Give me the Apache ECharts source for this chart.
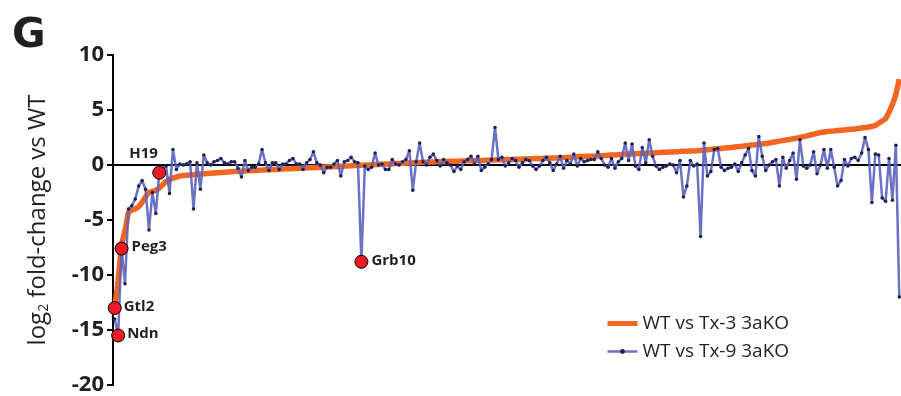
<!DOCTYPE html>
<html>
<head>
<meta charset="utf-8">
<script src="https://cdn.jsdelivr.net/npm/echarts@6/dist/echarts.min.js"></script>
<style>
  html, body { margin: 0; padding: 0; background: #fff; }
  #chart { width: 901px; height: 396px; }
</style>
</head>
<body>
<div id="chart"></div>
<script>
// genes ranked by WT vs Tx-3 3aKO (x axis has no labels)
const tx3 = [
  -13.0, -10.5, -7.2, -6.0, -4.3, -4.1, -4.0, -3.8, -3.4, -2.9,
  -2.5, -2.4, -2.3, -2.1, -1.8, -1.5, -1.3, -1.2, -1.1, -1.0,
  -0.96, -0.93, -0.9, -0.88, -0.85, -0.82, -0.8, -0.78, -0.75, -0.72,
  -0.7, -0.68, -0.66, -0.64, -0.62, -0.6, -0.58, -0.56, -0.54, -0.52,
  -0.5, -0.49, -0.47, -0.46, -0.44, -0.43, -0.41, -0.4, -0.38, -0.37,
  -0.35, -0.34, -0.32, -0.31, -0.29, -0.28, -0.26, -0.25, -0.23, -0.22,
  -0.2, -0.19, -0.17, -0.16, -0.14, -0.13, -0.11, -0.1, -0.08, -0.07,
  -0.05, -0.04, -0.02, -0.01, 0.01, 0.02, 0.04, 0.05, 0.07, 0.08,
  0.1, 0.11, 0.13, 0.14, 0.16, 0.17, 0.19, 0.2, 0.22, 0.23,
  0.25, 0.26, 0.27, 0.28, 0.29, 0.3, 0.31, 0.32, 0.33, 0.34,
  0.35, 0.36, 0.37, 0.38, 0.39, 0.4, 0.41, 0.42, 0.43, 0.44,
  0.45, 0.46, 0.47, 0.48, 0.49, 0.5, 0.51, 0.52, 0.53, 0.54,
  0.55, 0.56, 0.57, 0.58, 0.59, 0.6, 0.61, 0.62, 0.63, 0.64,
  0.65, 0.67, 0.69, 0.71, 0.73, 0.75, 0.77, 0.78, 0.79, 0.79,
  0.8, 0.82, 0.84, 0.86, 0.88, 0.9, 0.92, 0.94, 0.96, 0.98,
  1.0, 1.01, 1.03, 1.04, 1.06, 1.07, 1.09, 1.1, 1.12, 1.13,
  1.15, 1.16, 1.18, 1.19, 1.21, 1.22, 1.24, 1.25, 1.27, 1.28,
  1.3, 1.33, 1.36, 1.39, 1.42, 1.45, 1.48, 1.51, 1.54, 1.57,
  1.6, 1.63, 1.67, 1.7, 1.74, 1.77, 1.81, 1.84, 1.88, 1.91,
  1.95, 2.0, 2.06, 2.11, 2.17, 2.22, 2.28, 2.33, 2.39, 2.44,
  2.5, 2.58, 2.65, 2.73, 2.8, 2.88, 2.95, 3.0, 3.05, 3.08,
  3.1, 3.13, 3.16, 3.19, 3.22, 3.25, 3.28, 3.32, 3.36, 3.4,
  3.45, 3.5, 3.6, 3.8, 4.0, 4.2, 4.8, 5.5, 6.4, 7.8
];

const tx9 = [
  -14.0, -15.5, -7.6, -10.8, -4.0, -3.7, -3.1, -1.9, -1.4, -2.2,
  -5.9, -2.5, -4.4, -0.7, -0.3, -0.1, -2.6, 1.4, -0.4, 0.1,
  0.0, 0.1, 0.3, -4.0, 0.2, -2.2, 0.9, 0.2, 0.0, 0.3,
  0.4, 0.6, 0.2, 0.1, 0.3, 0.3, -0.3, -1.1, 0.4, -0.5,
  -0.2, -0.2, 0.1, 1.4, 0.2, -0.5, 0.2, 0.2, -0.4, 0.1,
  0.1, 0.4, 0.6, 0.1, 0.1, -0.4, 0.2, 0.5, 1.2, 0.2,
  0.0, -0.7, -0.2, -0.2, 0.1, 0.4, -1.0, 0.3, 0.4, 0.7,
  0.3, 0.2, -8.8, -0.1, -0.4, -0.2, 1.1, 0.0, 0.1, -0.4,
  -0.4, 0.5, 0.1, 0.0, 0.3, 0.5, 1.3, -2.3, 0.3, 2.0,
  0.3, 0.0, 0.7, 1.0, 0.4, -0.1, 0.5, 0.2, 0.0, -0.6,
  -0.1, -0.4, 0.3, 0.5, 0.8, 0.1, 0.8, -0.5, -0.2, 0.1,
  0.5, 3.4, 0.5, 0.7, -0.1, 0.2, 0.6, 0.4, -0.2, 0.2,
  0.5, 0.4, -0.1, -0.4, -0.1, 0.4, 0.7, 0.2, -0.5, 0.1,
  0.8, -0.3, 0.4, 0.1, 1.0, -0.1, 0.6, 0.3, 0.4, 0.5,
  0.5, 1.2, 0.6, 0.0, -0.2, 0.6, -0.3, 0.3, 0.6, 2.0,
  0.4, 1.9, -0.1, -0.4, 1.6, 0.2, 2.3, 0.8, -0.1, -0.4,
  -0.2, -0.1, 0.1, 0.0, -0.7, 0.4, -2.9, -1.9, 0.4, -0.1,
  0.1, -6.5, 2.0, -1.0, -0.6, 1.4, 1.5, -0.2, -0.5, -0.3,
  -0.2, 0.1, -0.6, 0.2, 0.9, 1.5, -0.5, -1.0, 2.6, 0.8,
  -0.5, 0.0, 0.3, 0.5, -1.9, 0.7, -0.3, 0.4, 1.1, -1.3,
  2.3, -0.1, -0.3, 0.0, 1.2, -0.8, 0.0, 1.4, -0.3, 1.4,
  -0.2, -1.9, -1.4, 0.5, -0.1, 0.6, 0.7, 0.4, 1.1, 2.5,
  1.4, -3.4, 1.0, 0.9, -3.0, -3.3, 0.6, -3.2, 1.8, -12.0
];

// highlighted imprinted genes: [rank index, value]
const geneNames = ["Gtl2", "Ndn", "Peg3", "H19", "Grb10"];
const geneIndex = [0, 1, 2, 13, 72];
const geneValue = [-13.0, -15.5, -7.6, -0.7, -8.8];

const yTicks = [-20, -15, -10, -5, 0, 5, 10];

const chart = echarts.init(document.getElementById("chart"));
const font = "'Open Sans', 'Noto Sans', sans-serif";
const ink = "#231f20";

const labelPos = { H19: [-30, -26], Gtl2: [9, -9], Ndn: [9, -9], Peg3: [10, -9], Grb10: [10, -9] };

chart.setOption({
  animation: false,
  title: {
    text: "G",
    left: 7,
    top: 11,
    textStyle: { fontFamily: "'DejaVu Sans', sans-serif", fontWeight: "bold", fontSize: 41, color: ink }
  },
  grid: { left: 113, right: -1, top: 55, bottom: 8 },
  legend: {
    orient: "vertical",
    left: 600,
    top: 309,
    itemWidth: 30,
    itemHeight: 6,
    itemGap: 9,
    textStyle: { fontFamily: font, fontSize: 19, color: ink },
    data: [
      { name: "WT vs Tx-3 3aKO", itemStyle: { opacity: 0 }, lineStyle: { color: "#f26522", width: 5 } },
      { name: "WT vs Tx-9 3aKO", itemStyle: { color: "#1d1f4d" }, lineStyle: { color: "#5b63bd", width: 2.5 } }
    ]
  },
  xAxis: {
    type: "category",
    data: tx3.map((_, i) => i),
    boundaryGap: true,
    axisLine: { onZero: true, lineStyle: { color: "#000", width: 2 } },
    axisTick: { show: false },
    axisLabel: { show: false },
    splitLine: { show: false }
  },
  yAxis: {
    type: "value",
    min: yTicks[0],
    max: yTicks[yTicks.length - 1],
    interval: 5,
    name: "{t|log}{s|2}{t| fold-change vs WT}",
    nameLocation: "middle",
    nameRotate: 90,
    nameGap: 62,
    nameTextStyle: {
      rich: {
        t: { fontFamily: font, fontSize: 24, color: ink },
        s: { fontFamily: font, fontSize: 14, color: ink, verticalAlign: "bottom", padding: [12, 0, 0, 0] }
      }
    },
    axisLine: { show: true, lineStyle: { color: "#000", width: 2 } },
    axisTick: { show: true, length: 6, lineStyle: { color: "#000", width: 2 } },
    axisLabel: { fontFamily: font, fontWeight: "bold", fontSize: 22, color: ink, margin: 9 },
    splitLine: { show: false }
  },
  series: [
    {
      name: "WT vs Tx-3 3aKO",
      type: "line",
      data: tx3,
      showSymbol: false,
      symbol: "none",
      color: "#f26522",
      lineStyle: { color: "#f26522", width: 5.5 },
      z: 2
    },
    {
      name: "WT vs Tx-9 3aKO",
      type: "line",
      data: tx9,
      symbol: "circle",
      symbolSize: 3.5,
      showAllSymbol: true,
      color: "#5b63bd",
      itemStyle: { color: "#1d1f4d", borderWidth: 0 },
      lineStyle: { color: "#5b63bd", width: 2.5, opacity: 0.9 },
      z: 3
    },
    {
      type: "scatter",
      data: geneNames.map((n, k) => ({ name: n, value: [geneIndex[k], geneValue[k]] })),
      symbolSize: 13,
      itemStyle: { color: "#ec1c24", borderColor: "#000", borderWidth: 1, opacity: 1 },
      label: {
        show: true,
        formatter: (p) => p.name,
        position: "right",
        fontFamily: font,
        fontWeight: "bold",
        fontSize: 15,
        color: ink,
        opacity: 1
      },
      labelLayout: (p) => {
        const off = labelPos[geneNames[p.dataIndex]];
        return { x: p.rect.x + p.rect.width / 2 + off[0], y: p.rect.y + p.rect.height / 2 + off[1], align: "left", verticalAlign: "top" };
      },
      z: 5
    }
  ]
});
</script>
</body>
</html>
